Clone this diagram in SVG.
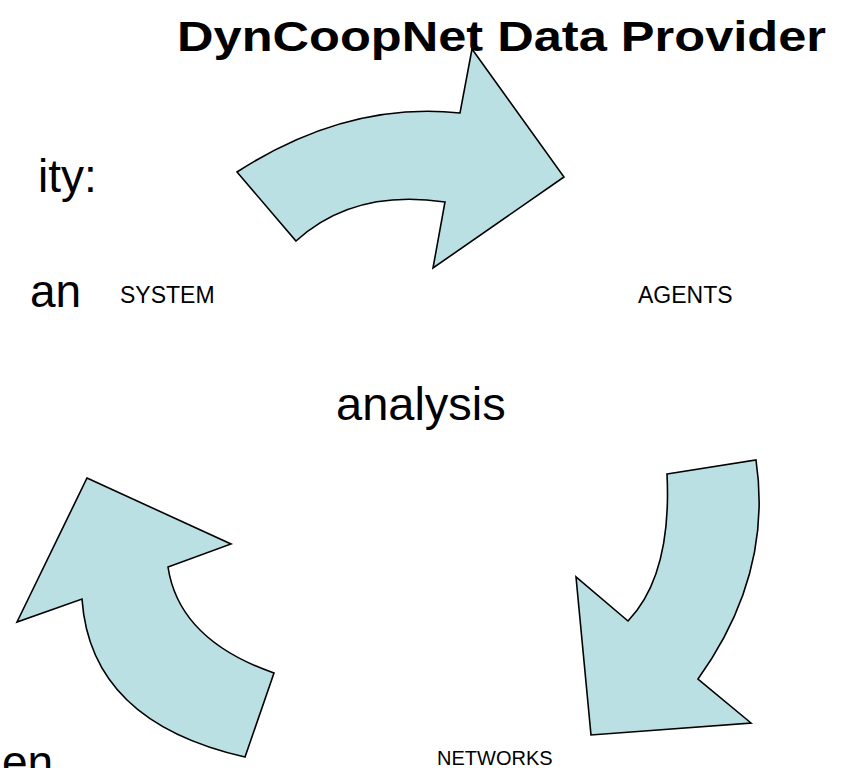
<svg xmlns="http://www.w3.org/2000/svg" width="843" height="768" viewBox="0 0 843 768">
<style>
.arrow{fill:#bae0e3;stroke:#000;stroke-width:1.6;stroke-linejoin:miter}
.body{font-family:"Liberation Sans",Arial,sans-serif;font-size:46px;fill:#000}
.lbl{font-family:"Liberation Sans",Arial,sans-serif;font-size:23px;fill:#000}
.lbl2{font-family:"Liberation Sans",Arial,sans-serif;font-size:20px;fill:#000}
.title{font-family:"Liberation Sans",Arial,sans-serif;font-size:43px;font-weight:bold;fill:#000}
</style>
<rect width="843" height="768" fill="#fff"/>
<g id="background-text">
<text class="body" x="38" y="192">ity:</text>
<text class="body" x="30" y="307">an</text>
<text class="body" x="2" y="778">en</text>
</g>
<g id="connectors">
<path id="arrow-top" class="arrow" d="M237,172 Q347,101 460,113 L472,49 L564,177 L433,268 L445,202 Q353.5,188.5 296,241 Z"/>
<path id="arrow-right" class="arrow" d="M667,474 L756,460 Q773,574.5 698,679 L751,723 L591,735 L576,577 L628,621 Q672,575 667,474 Z"/>
<path id="arrow-left" class="arrow" d="M87,478 L231,544 L168,567 Q179,640 274,673 L245,757 Q90.5,722 82,599 L17,622 Z"/>
</g>
<g id="title"><text class="title" x="177" y="51" textLength="649" lengthAdjust="spacingAndGlyphs">DynCoopNet Data Provider</text></g>
<g id="node-system"><text class="lbl" x="120" y="303">SYSTEM</text></g>
<g id="node-agents"><text class="lbl" x="638" y="303">AGENTS</text></g>
<g id="node-analysis"><text class="body" x="336" y="420" style="font-size:47px">analysis</text></g>
<g id="node-networks"><text class="lbl2" x="437" y="765">NETWORKS</text></g>
</svg>
